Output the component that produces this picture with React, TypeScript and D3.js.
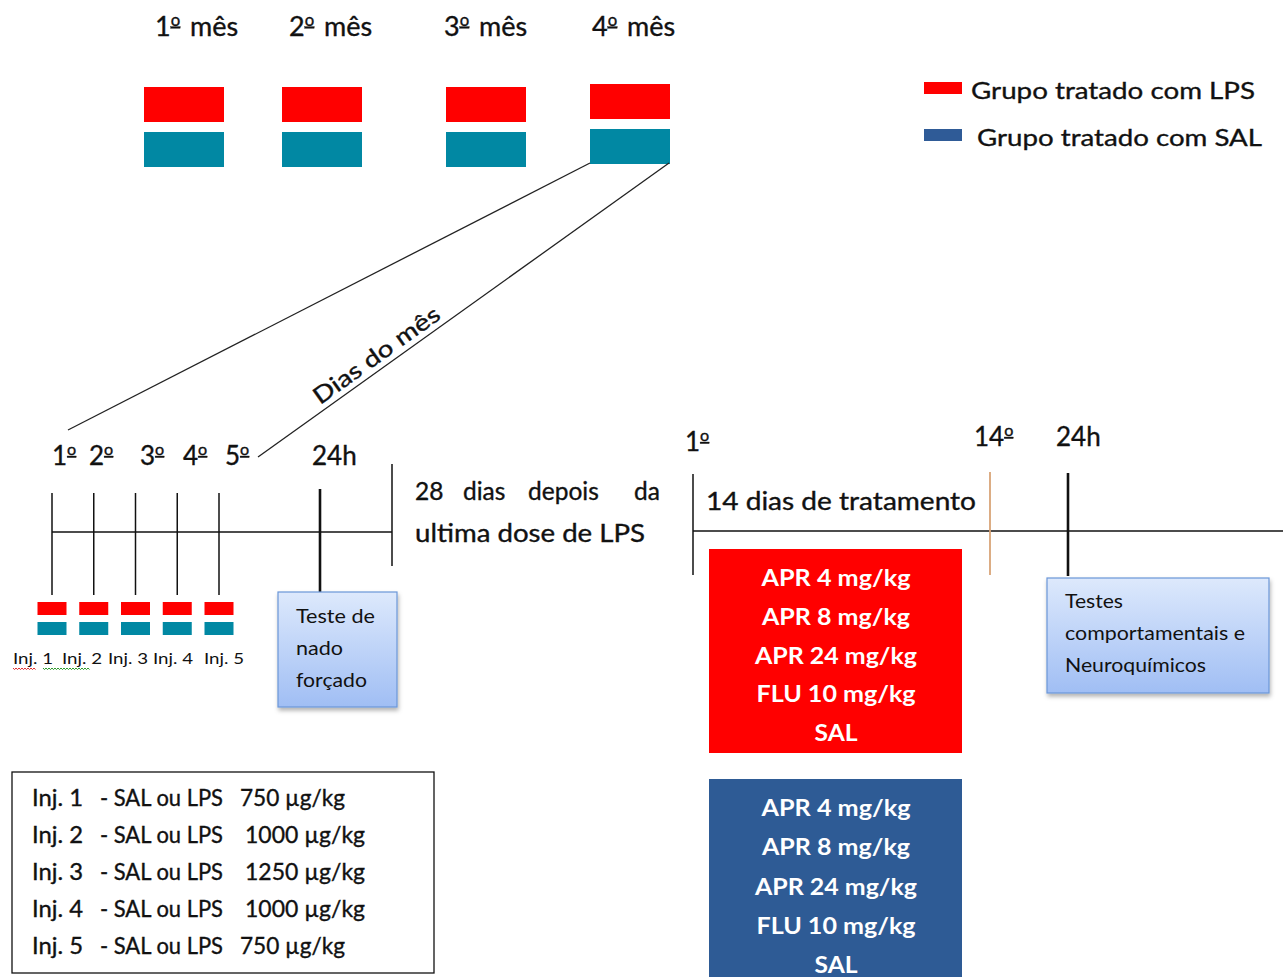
import React from "react";
import * as d3 from "d3";

// ---------- data ----------
const months = ["1º mês", "2º mês", "3º mês", "4º mês"];
const groupKeys = ["LPS", "SAL"];
const groupLabels = ["Grupo tratado com LPS", "Grupo tratado com SAL"];
const injectionDays = ["1º", "2º", "3º", "4º", "5º"];
const injectionLabels = ["Inj. 1", "Inj. 2", "Inj. 3", "Inj. 4", "Inj. 5"];
const injectionDoses = [750, 1000, 1250, 1000, 750];
const treatments = ["APR 4 mg/kg", "APR 8 mg/kg", "APR 24 mg/kg", "FLU 10 mg/kg", "SAL"];
const treatmentDays = ["1º", "14º"];
const gapWords = ["28", "dias", "depois", "da"];

// ---------- layout / style ----------
const W = 1283;
const H = 977;
const FONT = "Lato, 'Open Sans', sans-serif";
const RED = "#FF0000";
const TEAL = "#0188A3";
const BLUE = "#2E5B95";
const INK = "#111";
const barColor = d3.scaleOrdinal<string, string>().domain(groupKeys).range([RED, TEAL]);
const legendColor = d3.scaleOrdinal<string, string>().domain(groupKeys).range([RED, "#2F5B97"]);

const monthBoxX = [144, 282, 446, 590];
const monthBoxTop = [87, 87, 87, 84];
const monthLabelX = [155, 289, 444, 592];

const dayX = d3.scaleLinear().domain([0, 4]).range([52, 219]);
const dayLabelX = [52, 89, 140, 183, 225];
const injLabelX = [13, 62, 108, 153, 204];
const gapWordX = [415, 463, 528, 660];
const treatmentWidths = [149, 148, 162, 159, 43];

const rowY = d3.scaleLinear().domain([0, 4]).range([806, 954]);
const redRowY = d3.scaleLinear().domain([0, 4]).range([586, 741]);
const blueRowY = d3.scaleLinear().domain([0, 4]).range([816, 973]);

const textStyle = { stroke: INK, strokeWidth: 0.35, paintOrder: "stroke" } as React.CSSProperties;

function squiggle(x0: number, x1: number, y: number) {
  const pts = d3.range(x0, x1 + 0.1, 1.5).map((x, i) => [x, y + (i % 2 === 0 ? 0 : 1.6)] as [number, number]);
  return d3.line()(pts) || "";
}

// ordinal indicator "º": a raised small o with an underline (as in the source font)
function Ord({ s, gap = 0 }: { s: string; gap?: number }) {
  const parts = s.split("º");
  const small = 0.62;
  const rise = 0.62; // in small-font em
  return (
    <>
      {parts.map((p, i) => (
        <React.Fragment key={i}>
          {p && (
            <tspan dy={i > 0 ? `${(small * rise).toFixed(3)}em` : undefined} dx={i > 0 && gap ? gap : undefined}>
              {i > 0 ? "\u00A0" + p.trimStart() : p}
            </tspan>
          )}
          {i < parts.length - 1 && (
            <tspan fontSize={`${small}em`} dy={`-${rise}em`} textDecoration="underline" style={{ textDecorationThickness: "1.5px", textUnderlineOffset: "1px" } as React.CSSProperties}>o</tspan>
          )}
        </React.Fragment>
      ))}
    </>
  );
}

export default function App() {
  const l1 = { x1: 590, y1: 163, x2: 68, y2: 430 };
  const l2 = { x1: 669, y1: 163, x2: 258, y2: 457 };
  const ang = (Math.atan2(l2.y1 - l2.y2, l2.x1 - l2.x2) * 180) / Math.PI;
  const t = 0.3;
  const tx = l2.x2 + (l2.x1 - l2.x2) * t;
  const ty = l2.y2 + (l2.y1 - l2.y2) * t;

  return (
    <svg width={W} height={H} viewBox={`0 0 ${W} ${H}`} style={{ position: "absolute", left: 0, top: 0, background: "#fff" }} fontFamily={FONT}>
      <defs>
        <linearGradient id="boxGrad" x1="0" y1="0" x2="0" y2="1">
          <stop offset="0%" stopColor="#DDE9FC" />
          <stop offset="100%" stopColor="#A0BEF4" />
        </linearGradient>
        <filter id="shadow" x="-10%" y="-10%" width="130%" height="130%">
          <feDropShadow dx="1" dy="3" stdDeviation="2" floodColor="#000" floodOpacity="0.3" />
        </filter>
      </defs>
      <rect x={0} y={0} width={W} height={H} fill="#fff" />

      {/* months */}
      {months.map((m, i) => (
        <g key={m}>
          <text x={monthLabelX[i]} y={36} fontSize={27} fill={INK} style={textStyle}><Ord s={m} gap={3} /></text>
          {groupKeys.map((g, j) => (
            <rect key={g} x={monthBoxX[i]} y={monthBoxTop[i] + j * 45} width={80} height={35} fill={barColor(g)} />
          ))}
        </g>
      ))}

      {/* legend */}
      {groupKeys.map((g, j) => (
        <g key={g}>
          <rect x={924} y={82 + j * 47} width={38} height={12} fill={legendColor(g)} />
          <text x={j === 0 ? 971 : 977} y={99 + j * 47} fontSize={24} fill={INK} style={textStyle} textLength={j === 0 ? 284 : 285} lengthAdjust="spacingAndGlyphs">{groupLabels[j]}</text>
        </g>
      ))}

      {/* zoom lines */}
      <line {...l1} stroke="#222" strokeWidth={1.3} />
      <line {...l2} stroke="#222" strokeWidth={1.3} />
      <text transform={`translate(${tx},${ty}) rotate(${ang}) translate(4,-6)`} fontSize={23} textAnchor="middle" fill={INK} style={textStyle} textLength={150} lengthAdjust="spacingAndGlyphs">Dias do mês</text>

      {/* left timeline */}
      <line x1={dayX(0)} x2={392} y1={532} y2={532} stroke={INK} strokeWidth={1.5} />
      {injectionDays.map((d, i) => (
        <g key={d}>
          <line x1={dayX(i)} x2={dayX(i)} y1={493} y2={595} stroke={INK} strokeWidth={1.5} />
          <text x={dayLabelX[i]} y={465} fontSize={26} fill={INK} style={textStyle}><Ord s={d} /></text>
          {groupKeys.map((g, j) => (
            <rect key={g} x={dayX(i) - 14.5} y={602 + j * 20} width={29} height={13} fill={barColor(g)} />
          ))}
          <text x={injLabelX[i]} y={664} fontSize={16} fill={INK} textLength={40} lengthAdjust="spacingAndGlyphs">{injectionLabels[i]}</text>
        </g>
      ))}
      <path d={squiggle(13, 36, 668)} stroke="#E03030" strokeWidth={1} fill="none" />
      <path d={squiggle(43, 90, 668)} stroke="#2A9A2A" strokeWidth={1} fill="none" />
      <line x1={320} x2={320} y1={489} y2={592} stroke={INK} strokeWidth={2.6} />
      <text x={312} y={465} fontSize={26} fill={INK} style={textStyle}>24h</text>
      <line x1={392} x2={392} y1={464} y2={566} stroke={INK} strokeWidth={1.5} />

      {/* Teste de nado forçado */}
      <rect x={278} y={592} width={119} height={115} fill="url(#boxGrad)" stroke="#6B97D8" strokeWidth={1.2} filter="url(#shadow)" />
      {["Teste de", "nado", "forçado"].map((s, i) => (
        <text key={s} x={296} y={623 + i * 32} fontSize={19} fill={INK} textLength={[79, 47, 71][i]} lengthAdjust="spacingAndGlyphs">{s}</text>
      ))}

      {/* 28 dias depois da ultima dose de LPS */}
      {gapWords.map((w, i) => (
        <text key={w} x={gapWordX[i]} y={500} fontSize={24.5} fill={INK} style={textStyle} textAnchor={i === gapWords.length - 1 ? "end" : "start"}>{w}</text>
      ))}
      <text x={415} y={542} fontSize={24.5} fill={INK} style={textStyle} textLength={230} lengthAdjust="spacingAndGlyphs">ultima dose de LPS</text>

      {/* right timeline */}
      <line x1={693} x2={W} y1={531} y2={531} stroke={INK} strokeWidth={1.5} />
      <line x1={693} x2={693} y1={474} y2={575} stroke={INK} strokeWidth={1.5} />
      <line x1={990} x2={990} y1={472} y2={575} stroke="#D9A477" strokeWidth={1.8} />
      <line x1={1068} x2={1068} y1={473} y2={576} stroke={INK} strokeWidth={2.6} />
      <text x={685} y={451} fontSize={26} fill={INK} style={textStyle}><Ord s={treatmentDays[0]} /></text>
      <text x={974} y={446} fontSize={26} fill={INK} style={textStyle}><Ord s={treatmentDays[1]} /></text>
      <text x={1056} y={446} fontSize={26} fill={INK} style={textStyle}>24h</text>
      <text x={706} y={510} fontSize={24.5} fill={INK} style={textStyle} textLength={270} lengthAdjust="spacingAndGlyphs">14 dias de tratamento</text>

      {/* treatment boxes */}
      <rect x={709} y={549} width={253} height={204} fill={RED} />
      {treatments.map((s, i) => (
        <text key={"r" + s} x={836} y={redRowY(i)} fontSize={22} fontWeight="bold" fill="#fff" textAnchor="middle" textLength={treatmentWidths[i]} lengthAdjust="spacingAndGlyphs">{s}</text>
      ))}
      <rect x={709} y={779} width={253} height={H - 779} fill={BLUE} />
      {treatments.map((s, i) => (
        <text key={"b" + s} x={836} y={blueRowY(i)} fontSize={22} fontWeight="bold" fill="#fff" textAnchor="middle" textLength={treatmentWidths[i]} lengthAdjust="spacingAndGlyphs">{s}</text>
      ))}

      {/* Testes box */}
      <rect x={1047} y={578} width={222} height={115} fill="url(#boxGrad)" stroke="#6B97D8" strokeWidth={1.2} filter="url(#shadow)" />
      {["Testes", "comportamentais e", "Neuroquímicos"].map((s, i) => (
        <text key={s} x={1065} y={608 + i * 32} fontSize={19} fill={INK} textLength={[58, 180, 141][i]} lengthAdjust="spacingAndGlyphs">{s}</text>
      ))}

      {/* injection dose legend box */}
      <rect x={12} y={772} width={422} height={201} fill="#fff" stroke={INK} strokeWidth={1.3} />
      {injectionLabels.map((s, i) => (
        <g key={s}>
          <text x={32} y={rowY(i)} fontSize={22.5} fill={INK} style={textStyle} textLength={51} lengthAdjust="spacingAndGlyphs">{s}</text>
          <text x={100} y={rowY(i)} fontSize={22.5} fill={INK} style={textStyle} textLength={123} lengthAdjust="spacingAndGlyphs">- SAL ou LPS</text>
          <text x={injectionDoses[i] >= 1000 ? 245 : 240} y={rowY(i)} fontSize={22.5} fill={INK} style={textStyle} textLength={injectionDoses[i] >= 1000 ? 120 : 105} lengthAdjust="spacingAndGlyphs">{`${injectionDoses[i]} µg/kg`}</text>
        </g>
      ))}
    </svg>
  );
}
